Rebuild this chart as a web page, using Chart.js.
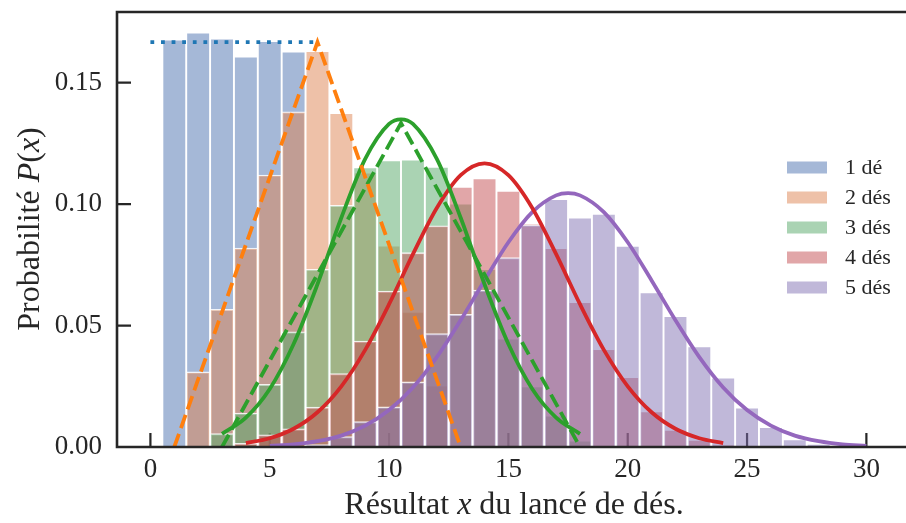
<!DOCTYPE html>
<html lang="fr">
<head>
<meta charset="utf-8">
<title>Lancés de dés</title>
<script src="https://cdn.jsdelivr.net/npm/chart.js@4.4.1/dist/chart.umd.min.js"></script>
<style>
  html, body { margin: 0; padding: 0; background: #fff; }
  #wrap { width: 906px; height: 523px; position: relative; }
</style>
</head>
<body>
<div id="wrap"><canvas id="chart"></canvas></div>
<script>
// Légende des histogrammes
const seriesLabels = ['1 dé', '2 dés', '3 dés', '4 dés', '5 dés'];

// Histogrammes simulés (résultat -> fréquence)
const x1 = [1, 2, 3, 4, 5, 6];
const y1 = [0.1678, 0.1706, 0.1682, 0.1608, 0.1671, 0.1628];

const x2 = [2, 3, 4, 5, 6, 7, 8, 9, 10, 11, 12];
const y2 = [0.0309, 0.0567, 0.0819, 0.1120, 0.1380, 0.1630, 0.1375, 0.1130, 0.0830, 0.0557, 0.0254];

const x3 = [3, 4, 5, 6, 7, 8, 9, 10, 11, 12, 13, 14, 15, 16, 17, 18];
const y3 = [0.0055, 0.0140, 0.0258, 0.0474, 0.0732, 0.0995, 0.1152, 0.1180, 0.1184, 0.1154,
            0.1002, 0.0733, 0.0447, 0.0250, 0.0130, 0.0027];

const x4 = [4, 5, 6, 7, 8, 9, 10, 11, 12, 13, 14, 15, 16, 17, 18, 19, 20, 21, 22, 23, 24];
const y4 = [0.0015, 0.0050, 0.0075, 0.0164, 0.0302, 0.0436, 0.0642, 0.0800, 0.0911, 0.1071,
            0.1106, 0.1055, 0.0920, 0.0819, 0.0597, 0.0403, 0.0288, 0.0147, 0.0071, 0.0030, 0.0010];

const x5 = [7, 8, 9, 10, 11, 12, 13, 14, 15, 16, 17, 18, 19, 20, 21, 22, 23, 24, 25, 26, 27, 28, 29];
const y5 = [0.0010, 0.0043, 0.0105, 0.0165, 0.0268, 0.0467, 0.0546, 0.0646, 0.0780, 0.0915,
            0.1021, 0.0945, 0.0960, 0.0828, 0.0637, 0.0539, 0.0415, 0.0286, 0.0163, 0.0082,
            0.0032, 0.0013, 0.0004];

// Lois théoriques (pointillés / tirets)
const uniX = [0, 7];
const uniY = [0.1667, 0.1667];
const tri2X = [1, 7, 13];
const tri2Y = [0, 0.1667, 0];
const tri3X = [3, 10.5, 18];
const tri3Y = [0, 0.1333, 0];

// Approximations gaussiennes
const g3X = [3, 4, 5, 6, 7, 8, 9, 10, 10.5, 11, 12, 13, 14, 15, 16, 17, 18];
const g3Y = [0.0054, 0.0121, 0.0239, 0.0424, 0.0670, 0.0944, 0.1186, 0.1330, 0.1349, 0.1330,
             0.1186, 0.0944, 0.0670, 0.0424, 0.0239, 0.0121, 0.0054];
const g4X = [4, 5, 6, 7, 8, 9, 10, 11, 12, 13, 14, 15, 16, 17, 18, 19, 20, 21, 22, 23, 24];
const g4Y = [0.0016, 0.0036, 0.0075, 0.0143, 0.0250, 0.0400, 0.0588, 0.0794, 0.0984, 0.1119,
             0.1168, 0.1119, 0.0984, 0.0794, 0.0588, 0.0400, 0.0250, 0.0143, 0.0075, 0.0036, 0.0016];
const g5X = [5, 6, 7, 8, 9, 10, 11, 12, 13, 14, 15, 16, 17, 17.5, 18, 19, 20, 21, 22, 23, 24,
             25, 26, 27, 28, 29, 30];
const g5Y = [0.0005, 0.0011, 0.0024, 0.0047, 0.0088, 0.0152, 0.0245, 0.0370, 0.0522, 0.0686,
             0.0843, 0.0967, 0.1036, 0.1045, 0.1036, 0.0967, 0.0843, 0.0686, 0.0522, 0.0370,
             0.0245, 0.0152, 0.0088, 0.0047, 0.0024, 0.0011, 0.0005];

// Titres des axes : [texte, italique]
const xTitle = [['Résultat ', false], ['x', true], [' du lancé de dés.', false]];
const yTitle = [['Probabilité ', false], ['P', true], ['(', false], ['x', true], [')', false]];

// Couleurs
const barColors = ['rgba(76,114,176,0.5)', 'rgba(221,132,82,0.5)', 'rgba(85,168,104,0.5)',
                   'rgba(196,78,82,0.5)', 'rgba(129,114,179,0.5)'];
const lineColors = ['#1f77b4', '#ff7f0e', '#2ca02c', '#d62728', '#9467bd'];
const INK = '#262626';
const SERIF = "'Liberation Serif', 'DejaVu Serif', serif";
const LW = 3.8;

const zip = (xs, ys) => xs.map((v, i) => ({ x: v, y: ys[i] }));

const histos = [[x1, y1], [x2, y2], [x3, y3], [x4, y4], [x5, y5]];
const barSets = histos.map((h, i) => ({
  type: 'bar',
  label: seriesLabels[i],
  data: zip(h[0], h[1]),
  backgroundColor: barColors[i],
  borderColor: 'rgba(255,255,255,0.85)',
  borderWidth: 1.3,
  barPercentage: 1,
  categoryPercentage: 1,
  grouped: false,
  order: 5 - i
}));

function lineSet(xs, ys, color, dash, curve) {
  return {
    type: 'line',
    data: zip(xs, ys),
    borderColor: color,
    borderWidth: LW,
    borderDash: dash,
    borderCapStyle: 'butt',
    pointRadius: 0,
    fill: false,
    tension: 0,
    cubicInterpolationMode: curve ? 'monotone' : 'default',
    order: 0
  };
}

const lineSets = [
  lineSet(uniX, uniY, lineColors[0], [3.8, 6.8], false),
  lineSet(tri2X, tri2Y, lineColors[1], [14, 6], false),
  lineSet(tri3X, tri3Y, lineColors[2], [14, 6], false),
  lineSet(g3X, g3Y, lineColors[2], [], true),
  lineSet(g4X, g4Y, lineColors[3], [], true),
  lineSet(g5X, g5Y, lineColors[4], [], true)
];

function drawMixed(ctx, parts, size) {
  let total = 0;
  parts.forEach(p => {
    ctx.font = (p[1] ? 'italic ' : '') + size + 'px ' + SERIF;
    p.w = ctx.measureText(p[0]).width;
    total += p.w;
  });
  let cx = -total / 2;
  parts.forEach(p => {
    ctx.font = (p[1] ? 'italic ' : '') + size + 'px ' + SERIF;
    ctx.fillText(p[0], cx, 0);
    cx += p.w;
  });
}

// Graduations vers l'intérieur, axes et légende
const framePlugin = {
  id: 'frame',
  beforeDatasetsDraw(chart) {
    const { ctx, chartArea: a, scales: { x, y } } = chart;
    ctx.save();
    ctx.strokeStyle = INK;
    ctx.lineWidth = 2.2;
    ctx.beginPath();
    x.ticks.forEach(t => {
      const px = x.getPixelForValue(t.value);
      ctx.moveTo(px, a.bottom);
      ctx.lineTo(px, a.bottom - 14);
    });
    y.ticks.forEach(t => {
      const py = y.getPixelForValue(t.value);
      ctx.moveTo(a.left, py);
      ctx.lineTo(a.left + 14, py);
    });
    ctx.stroke();
    ctx.restore();
  },
  afterDatasetsDraw(chart) {
    const { ctx, chartArea: a } = chart;
    ctx.save();
    ctx.strokeStyle = INK;
    ctx.lineWidth = 2.6;
    ctx.lineCap = 'square';
    ctx.beginPath();
    ctx.moveTo(a.right, a.top);
    ctx.lineTo(a.left, a.top);
    ctx.lineTo(a.left, a.bottom);
    ctx.lineTo(a.right, a.bottom);
    ctx.stroke();
    ctx.restore();
  },
  afterDraw(chart) {
    const { ctx } = chart;
    ctx.save();
    ctx.fillStyle = INK;
    ctx.textBaseline = 'alphabetic';
    // titre axe x
    ctx.save();
    ctx.translate(514, 514);
    drawMixed(ctx, xTitle, 32);
    ctx.restore();
    // titre axe y
    ctx.save();
    ctx.translate(39, 229);
    ctx.rotate(-Math.PI / 2);
    drawMixed(ctx, yTitle, 32);
    ctx.restore();
    // légende
    ctx.textBaseline = 'middle';
    ctx.font = '22px ' + SERIF;
    seriesLabels.forEach((lab, i) => {
      const cy = 167.5 + 30 * i;
      ctx.fillStyle = barColors[i];
      ctx.fillRect(787, cy - 6, 40, 12);
      ctx.fillStyle = INK;
      ctx.fillText(lab, 845, cy + 1);
    });
    ctx.restore();
  }
};

Chart.defaults.font.family = SERIF;
Chart.defaults.color = INK;

new Chart(document.getElementById('chart'), {
  type: 'bar',
  data: { datasets: barSets.concat(lineSets) },
  options: {
    responsive: true,
    maintainAspectRatio: false,
    animation: false,
    layout: { padding: { top: 12, left: 0, right: 0, bottom: 0 } },
    plugins: {
      legend: { display: false },
      tooltip: { enabled: false }
    },
    scales: {
      x: {
        type: 'linear',
        offset: false,
        min: -1.4,
        max: 31.66,
        grid: { display: false, drawTicks: false },
        border: { display: false },
        ticks: { stepSize: 5, includeBounds: false, padding: 7, font: { size: 27 }, color: INK, maxRotation: 0 },
        afterFit(scale) {
          scale.height = 76;
          scale.paddingLeft = 0;
          scale.paddingRight = 0;
        }
      },
      y: {
        min: 0,
        max: 0.1791,
        grid: { display: false, drawTicks: false },
        border: { display: false },
        ticks: {
          stepSize: 0.05,
          includeBounds: false,
          padding: 15,
          font: { size: 27 },
          color: INK,
          callback: v => v.toFixed(2)
        },
        afterFit(scale) {
          scale.width = 117;
          scale.paddingTop = 0;
          scale.paddingBottom = 0;
        }
      }
    }
  },
  plugins: [framePlugin]
});
</script>
</body>
</html>
